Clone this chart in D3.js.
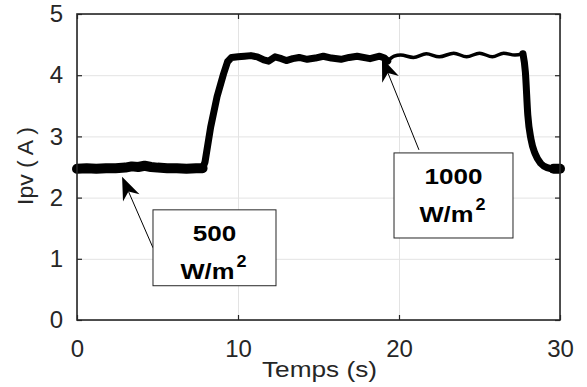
<!DOCTYPE html>
<html>
<head>
<meta charset="utf-8">
<script src="https://cdn.jsdelivr.net/npm/d3@7"></script>
<style>
  body { margin: 0; background: #fff; }
  svg { display: block; font-family: "Liberation Sans", Arial, sans-serif; }
</style>
</head>
<body>
<svg id="chart"></svg>
<script>
// tick values
const xTicks = [0, 10, 20, 30];
const yTicks = [0, 1, 2, 3, 4, 5];

// 500 W/m2 stage (noisy, thick trace)
const tLow = [0, 0.6, 1.2, 1.8, 2.4, 3.0, 3.4, 3.8, 4.2, 4.6, 5.0, 5.6, 6.2, 6.8, 7.4, 7.8];
const iLow = [2.47, 2.48, 2.47, 2.48, 2.48, 2.49, 2.51, 2.50, 2.52, 2.50, 2.49, 2.48, 2.48, 2.47, 2.48, 2.48];

// step up to 1000 W/m2
const tRise = [7.8, 7.95, 8.3, 8.7, 9.1, 9.35, 9.6, 10.0, 10.4, 10.8, 11.2, 11.6, 11.9, 12.3, 12.7, 13.0, 13.4, 13.8, 14.3, 14.8, 15.3, 15.8, 16.4, 16.9, 17.4, 18.2, 18.8, 19.1, 19.3];
const iRise = [2.48, 2.58, 3.15, 3.65, 4.02, 4.22, 4.29, 4.30, 4.31, 4.32, 4.30, 4.25, 4.23, 4.30, 4.27, 4.24, 4.27, 4.29, 4.26, 4.28, 4.31, 4.28, 4.26, 4.29, 4.31, 4.27, 4.31, 4.28, 4.23];

// 1000 W/m2 stage (clean ripple)
const tHigh = [19.3, 19.7, 20.1, 20.9, 21.7, 22.5, 23.4, 24.2, 25.0, 25.8, 26.5, 27.2, 27.7];
const iHigh = [4.23, 4.31, 4.33, 4.29, 4.35, 4.30, 4.36, 4.30, 4.36, 4.30, 4.36, 4.33, 4.35];

// step back down to 500 W/m2
const tFall = [27.7, 27.85, 28.0, 28.2, 28.45, 28.8, 29.2, 29.6, 30];
const iFall = [4.35, 4.05, 3.35, 2.95, 2.72, 2.56, 2.49, 2.47, 2.47];

const irradiance = ["500", "1000"];

document.addEventListener("DOMContentLoaded", function () {
  const width = 587;
  const height = 387;
  const margin = { top: 14, right: 27, bottom: 67, left: 77 };
  const axisColor = "#262626";

  const svg = d3.select("#chart")
    .attr("width", width)
    .attr("height", height);

  const x = d3.scaleLinear().domain([0, 30]).range([margin.left, width - margin.right]);
  const y = d3.scaleLinear().domain([0, 5]).range([height - margin.bottom, margin.top]);

  // grid
  svg.append("g")
    .attr("transform", `translate(0,${y(0)})`)
    .call(d3.axisBottom(x).tickValues(xTicks).tickSize(-(y(0) - y(5))).tickFormat(""))
    .call(g => g.select(".domain").remove())
    .call(g => g.selectAll("line").attr("stroke", "#e3e3e3"));

  svg.append("g")
    .attr("transform", `translate(${x(0)},0)`)
    .call(d3.axisLeft(y).tickValues(yTicks).tickSize(-(x(30) - x(0))).tickFormat(""))
    .call(g => g.select(".domain").remove())
    .call(g => g.selectAll("line").attr("stroke", "#e3e3e3"));

  // the current trace, in four pieces of different thickness
  const line = d3.line()
    .x(d => x(d[0]))
    .y(d => y(d[1]));

  const pieces = [
    { t: tLow, v: iLow, w: 10, curve: d3.curveLinear },
    { t: tRise, v: iRise, w: 7, curve: d3.curveLinear },
    { t: tHigh, v: iHigh, w: 3.5, curve: d3.curveMonotoneX },
    { t: tFall, v: iFall, w: 7, curve: d3.curveMonotoneX }
  ];

  svg.selectAll("path.trace")
    .data(pieces)
    .enter()
    .append("path")
    .attr("class", "trace")
    .attr("d", p => line.curve(p.curve)(p.t.map((t, i) => [t, p.v[i]])))
    .attr("fill", "none")
    .attr("stroke", "#000")
    .attr("stroke-width", p => p.w)
    .attr("stroke-linejoin", "round")
    .attr("stroke-linecap", "round");

  // end blob on the right edge
  svg.append("path")
    .attr("d", line.curve(d3.curveLinear)([[29.6, 2.47], [30, 2.47]]))
    .attr("stroke", "#000")
    .attr("stroke-width", 10)
    .attr("stroke-linecap", "round");

  // annotations: arrow tip, arrow tail, box corners (in data units)
  const notes = [
    { tip: [2.8, 2.34], tail: [4.72, 1.18], box: [4.72, 1.80, 12.36, 0.56] },
    { tip: [18.94, 4.28], tail: [21.24, 2.78], box: [19.69, 2.73, 27.08, 1.34] }
  ];

  notes.forEach((n, i) => {
    const tx = x(n.tip[0]), ty = y(n.tip[1]);
    const ax = x(n.tail[0]), ay = y(n.tail[1]);
    const len = Math.hypot(ax - tx, ay - ty);
    const ux = (ax - tx) / len, uy = (ay - ty) / len;
    const px = -uy, py = ux;

    svg.append("line")
      .attr("x1", ax).attr("y1", ay)
      .attr("x2", tx + ux * 16).attr("y2", ty + uy * 16)
      .attr("stroke", "#000")
      .attr("stroke-width", 1);

    const head = [
      [tx, ty],
      [tx + ux * 23 + px * 9, ty + uy * 23 + py * 9],
      [tx + ux * 16, ty + uy * 16],
      [tx + ux * 23 - px * 9, ty + uy * 23 - py * 9]
    ];
    svg.append("path")
      .attr("d", "M" + head.join("L") + "Z")
      .attr("fill", "#000");

    const bx0 = x(n.box[0]), by0 = y(n.box[1]);
    const bx1 = x(n.box[2]), by1 = y(n.box[3]);
    const cx = (bx0 + bx1) / 2;

    svg.append("rect")
      .attr("x", bx0).attr("y", by0)
      .attr("width", bx1 - bx0).attr("height", by1 - by0)
      .attr("fill", "#fff")
      .attr("stroke", axisColor)
      .attr("stroke-width", 1);

    svg.append("text")
      .attr("x", cx).attr("y", by0 + 31)
      .attr("text-anchor", "middle")
      .attr("font-weight", "bold")
      .attr("font-size", 22)
      .attr("textLength", irradiance[i].length * 14.5)
      .attr("lengthAdjust", "spacingAndGlyphs")
      .attr("fill", "#000")
      .text(irradiance[i]);

    svg.append("text")
      .attr("x", cx - 34).attr("y", by0 + 69)
      .attr("font-weight", "bold")
      .attr("font-size", 22)
      .attr("textLength", 54)
      .attr("lengthAdjust", "spacingAndGlyphs")
      .attr("fill", "#000")
      .text("W/m");

    svg.append("text")
      .attr("x", cx + 22).attr("y", by0 + 57)
      .attr("font-weight", "bold")
      .attr("font-size", 16)
      .attr("textLength", 10)
      .attr("lengthAdjust", "spacingAndGlyphs")
      .attr("fill", "#000")
      .text("2");
  });

  // inward ticks on all four sides
  const tickStyle = g => {
    g.select(".domain").remove();
    g.selectAll("line").attr("stroke", axisColor).attr("stroke-width", 1.2);
  };

  svg.append("g")
    .attr("transform", `translate(0,${y(0)})`)
    .call(d3.axisBottom(x).tickValues(xTicks).tickSize(-5).tickPadding(20).tickFormat(d3.format("d")))
    .call(tickStyle)
    .call(g => g.selectAll("text")
      .attr("fill", axisColor)
      .attr("font-size", 24)
      .attr("font-family", "Liberation Sans, Arial, sans-serif"));

  svg.append("g")
    .attr("transform", `translate(0,${y(5)})`)
    .call(d3.axisTop(x).tickValues(xTicks).tickSize(-5).tickFormat(""))
    .call(tickStyle);

  svg.append("g")
    .attr("transform", `translate(${x(0)},0)`)
    .call(d3.axisLeft(y).tickValues(yTicks).tickSize(-5).tickPadding(14).tickFormat(d3.format("d")))
    .call(tickStyle)
    .call(g => g.selectAll("text")
      .attr("fill", axisColor)
      .attr("font-size", 24)
      .attr("font-family", "Liberation Sans, Arial, sans-serif"));

  svg.append("g")
    .attr("transform", `translate(${x(30)},0)`)
    .call(d3.axisRight(y).tickValues(yTicks).tickSize(-5).tickFormat(""))
    .call(tickStyle);

  // axes box
  svg.append("rect")
    .attr("x", x(0)).attr("y", y(5))
    .attr("width", x(30) - x(0)).attr("height", y(0) - y(5))
    .attr("fill", "none")
    .attr("stroke", axisColor)
    .attr("stroke-width", 1.6);

  // axis labels
  svg.append("text")
    .attr("x", 262).attr("y", 377)
    .attr("font-size", 22)
    .attr("textLength", 115)
    .attr("lengthAdjust", "spacingAndGlyphs")
    .attr("fill", axisColor)
    .text("Temps (s)");

  svg.append("text")
    .attr("transform", "translate(33,166) rotate(-90)")
    .attr("text-anchor", "middle")
    .attr("font-size", 22)
    .attr("textLength", 78)
    .attr("lengthAdjust", "spacingAndGlyphs")
    .attr("fill", axisColor)
    .text("Ipv ( A )");
});
</script>
</body>
</html>
